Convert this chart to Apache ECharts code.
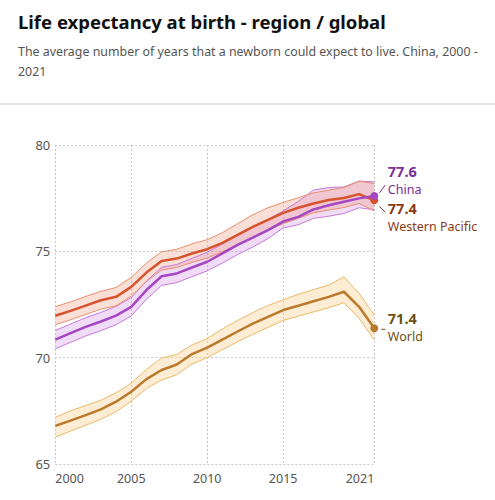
<!DOCTYPE html>
<html><head><meta charset="utf-8">
<script src="https://cdn.jsdelivr.net/npm/echarts@6/dist/echarts.min.js"></script>
<style>html,body{margin:0;padding:0;background:#fff}#c{width:495px;height:500px}</style>
</head><body><div id="c"></div>
<script>
const years = ['2000','2001','2002','2003','2004','2005','2006','2007','2008','2009','2010','2011','2012','2013','2014','2015','2016','2017','2018','2019','2020','2021'];
const tickYears = ['2000','2005','2010','2015','2021'];
const yTicks = [65, 70, 75, 80];

const wpMid   = [71.97,72.20,72.45,72.70,72.86,73.33,74.00,74.55,74.66,74.90,75.10,75.40,75.77,76.15,76.48,76.81,77.05,77.25,77.41,77.51,77.69,77.40];
const wpUpper = [72.40,72.62,72.88,73.12,73.30,73.78,74.45,74.98,75.10,75.35,75.55,75.88,76.30,76.72,77.05,77.30,77.52,77.75,77.88,78.00,78.30,78.19];
const wpLower = [71.55,71.78,72.03,72.28,72.44,72.90,73.58,74.12,74.24,74.48,74.68,74.98,75.30,75.65,75.98,76.30,76.55,76.81,76.94,77.06,77.25,76.90];

const cnMid   = [70.85,71.15,71.45,71.70,71.98,72.39,73.18,73.83,73.96,74.24,74.51,74.90,75.30,75.65,76.00,76.40,76.62,76.97,77.17,77.33,77.49,77.60];
const cnUpper = [71.28,71.58,71.88,72.13,72.41,72.82,73.60,74.25,74.38,74.67,74.95,75.35,75.75,76.12,76.50,76.90,77.35,77.88,78.00,78.03,78.30,78.27];
const cnLower = [70.42,70.72,71.02,71.27,71.55,71.96,72.75,73.40,73.53,73.81,74.08,74.45,74.85,75.20,75.60,76.10,76.25,76.55,76.65,76.78,77.05,76.95];

const wdMid   = [66.79,67.04,67.30,67.57,67.93,68.40,68.99,69.42,69.68,70.17,70.47,70.85,71.23,71.60,71.92,72.24,72.44,72.65,72.86,73.10,72.39,71.38];
const wdUpper = [67.20,67.50,67.75,68.00,68.35,68.80,69.45,69.98,70.15,70.60,70.90,71.35,71.75,72.12,72.45,72.72,72.98,73.20,73.42,73.80,73.02,72.00];
const wdLower = [66.26,66.55,66.82,67.10,67.45,67.95,68.55,68.95,69.20,69.70,70.00,70.38,70.75,71.10,71.42,71.75,71.95,72.15,72.35,72.58,71.85,70.83];

const FONT = 'Noto Sans';
const last = years.length - 1;

function bandSeries(id, lower, upper, edge, fill) {
  return [
    { name: id + '-lo', type: 'line', stack: id, data: lower, symbol: 'none', silent: true, z: 2,
      lineStyle: { width: 1, color: edge } },
    { name: id + '-band', type: 'line', stack: id, data: upper.map((u, i) => +(u - lower[i]).toFixed(3)),
      symbol: 'none', silent: true, z: 2,
      lineStyle: { width: 1, color: edge }, areaStyle: { color: fill, opacity: 1 } }
  ];
}
function midSeries(id, data, color) {
  return { name: id, type: 'line', data: data, z: 4, showSymbol: true, showAllSymbol: true,
    symbol: 'circle', symbolSize: (v, p) => p.dataIndex === last ? 8 : 0,
    itemStyle: { color: color }, lineStyle: { width: 2.5, color: color } };
}

const chart = echarts.init(document.getElementById('c'), null, { renderer: 'svg' });
chart.setOption({
  animation: false,
  textStyle: { fontFamily: FONT },
  title: {
    text: 'Life expectancy at birth - region / global',
    subtext: 'The average number of years that a newborn could expect to live. China, 2000 -\n2021',
    left: 13, top: 7, itemGap: 10,
    textStyle: { fontFamily: FONT, fontSize: 18.5, fontWeight: 'bold', color: '#111' },
    subtextStyle: { fontFamily: FONT, fontSize: 12.4, color: '#555', lineHeight: 20 }
  },
  grid: { left: 55.3, right: 120.7, top: 145, bottom: 36 },
  xAxis: {
    type: 'category', data: years, boundaryGap: false,
    axisLine: { show: false }, axisTick: { show: false },
    axisLabel: { interval: (i, v) => tickYears.includes(v), color: '#555', fontSize: 12.5, margin: 8,
      fontFamily: FONT, alignMinLabel: 'left', alignMaxLabel: 'right' },
    splitLine: { show: true, interval: (i, v) => tickYears.includes(v),
      lineStyle: { type: [2, 2], color: '#c8c8c8', width: 1 } }
  },
  yAxis: {
    type: 'value', min: yTicks[0], max: yTicks[yTicks.length - 1], interval: 5,
    axisLine: { show: false }, axisTick: { show: false },
    axisLabel: { color: '#555', fontSize: 13, margin: 5, fontFamily: FONT },
    splitLine: { lineStyle: { type: [2, 2], color: '#c8c8c8', width: 1 } }
  },
  series: [
    ...bandSeries('world', wdLower, wdUpper, '#ebb868', 'rgba(248,214,160,0.45)'),
    ...bandSeries('china', cnLower, cnUpper, '#c57ad9', 'rgba(205,130,225,0.28)'),
    ...bandSeries('wp', wpLower, wpUpper, '#e8906d', 'rgba(238,150,120,0.30)'),
    midSeries('World', wdMid, '#bb7a2b'),
    midSeries('Western Pacific', wpMid, '#d6532e'),
    midSeries('China', cnMid, '#a546c3')
  ]
});

function endPx(v) { return chart.convertToPixel({ gridIndex: 0 }, [last, v]); }
const pc = endPx(cnMid[last]);
const pw = endPx(wpMid[last]);
const pd = endPx(wdMid[last]);
const numStyle = (c) => ({ fontFamily: FONT, fontSize: 14.5, lineHeight: 14.5, fontWeight: 'bold', fill: c, align: 'left', verticalAlign: 'middle' });
const nameStyle = (c) => ({ fontFamily: FONT, fontSize: 12.5, lineHeight: 12.5, fill: c, align: 'left', verticalAlign: 'middle' });
const cC = '#7b2f97', cW = '#8b3a16', cD = '#6e4f14';
const lx = pc[0] + 13.5;
chart.setOption({
  graphic: [
    { type: 'line', shape: { x1: 0, y1: 104, x2: 495, y2: 104 }, style: { stroke: '#dcdcdc', lineWidth: 1.5 } },
    { type: 'line', shape: { x1: pc[0] + 5, y1: pc[1] - 3, x2: pc[0] + 11, y2: pc[1] - 11 }, style: { stroke: cC, lineWidth: 1 } },
    { type: 'text', x: lx, y: pc[1] - 25.5, style: Object.assign({ text: cnMid[last].toFixed(1) }, numStyle(cC)) },
    { type: 'text', x: lx, y: pc[1] - 7, style: Object.assign({ text: 'China' }, nameStyle(cC)) },
    { type: 'line', shape: { x1: pw[0] + 5, y1: pw[1] + 6, x2: pw[0] + 11, y2: pw[1] + 12 }, style: { stroke: cW, lineWidth: 1 } },
    { type: 'text', x: lx, y: pw[1] + 7.5, style: Object.assign({ text: wpMid[last].toFixed(1) }, numStyle(cW)) },
    { type: 'text', x: lx, y: pw[1] + 26, style: Object.assign({ text: 'Western Pacific' }, nameStyle(cW)) },
    { type: 'line', shape: { x1: pd[0] + 7, y1: pd[1] + 1, x2: pd[0] + 11, y2: pd[1] + 1 }, style: { stroke: cD, lineWidth: 1 } },
    { type: 'text', x: lx, y: pd[1] - 10.5, style: Object.assign({ text: wdMid[last].toFixed(1) }, numStyle(cD)) },
    { type: 'text', x: lx, y: pd[1] + 8, style: Object.assign({ text: 'World' }, nameStyle(cD)) }
  ]
});
</script>
</body></html>
